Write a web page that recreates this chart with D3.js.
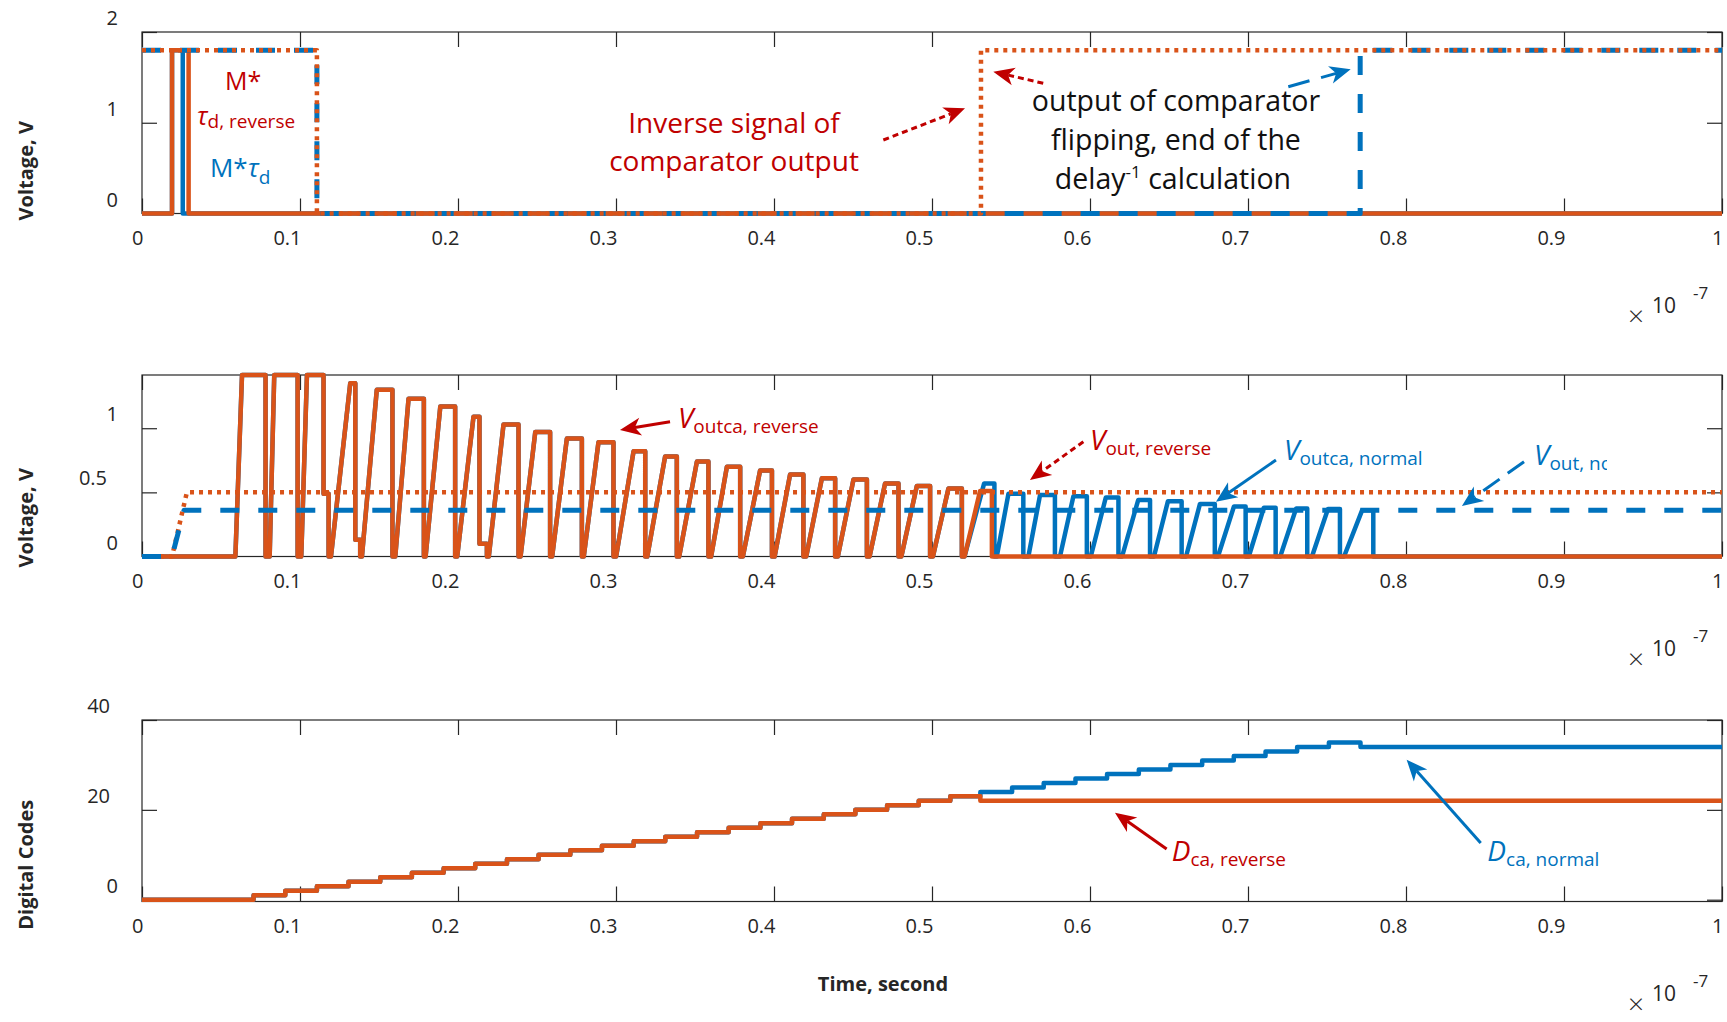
<!DOCTYPE html>
<html>
<head>
<meta charset="utf-8">
<script src="https://cdn.jsdelivr.net/npm/d3@7"></script>
<style>
  body { margin: 0; background: #fff; }
  svg { display: block; }
</style>
</head>
<body>
<script>
// time axis, units of 1e-7 s
var xTicks = [0, 0.1, 0.2, 0.3, 0.4, 0.5, 0.6, 0.7, 0.8, 0.9, 1];
var xTickLabels = ["0", "0.1", "0.2", "0.3", "0.4", "0.5", "0.6", "0.7", "0.8", "0.9", "1"];
var p1Ticks = [0, 1, 2];
var p2Ticks = [0, 0.5, 1];
var p3Ticks = [0, 20, 40];

// panel 1: comparator output (normal, inverse) and the M*tau_d pulses
var compNormT = [0, 0.1107, 0.1107, 0.771, 0.771, 1];
var compNormV = [1.8, 1.8, 0, 0, 1.8, 1.8];
var compRevT = [0, 0.1107, 0.1107, 0.531, 0.531, 1];
var compRevV = [1.8, 1.8, 0, 0, 1.8, 1.8];
var pulseNormT = [0, 0.019, 0.019, 0.0258, 0.0258, 1];
var pulseNormV = [0, 0, 1.8, 1.8, 0, 0];
var pulseRevT = [0, 0.019, 0.019, 0.0295, 0.0295, 1];
var pulseRevV = [0, 0, 1.8, 1.8, 0, 0];

// panel 2: Vout (dotted / dashed)
var voutRevT = [0, 0.019, 0.0284, 1];
var voutRevV = [0, 0, 0.5, 0.5];
var voutNormT = [0, 0.019, 0.0266, 1];
var voutNormV = [0, 0, 0.36, 0.36];

// panel 2: Voutca cycles shared by both runs (ramp start, top reached, drop, peak, level held after drop, end of hold)
var caStart = [0.0591, 0.0808, 0.1008, 0.1196, 0.1392, 0.1603, 0.1795, 0.1995, 0.2195, 0.2396, 0.2596, 0.2796, 0.3001, 0.3198, 0.3400, 0.3602, 0.3803, 0.4004, 0.4204, 0.4404, 0.4605, 0.4806, 0.5006];
var caTop = [0.0633, 0.0837, 0.1044, 0.1318, 0.1486, 0.1687, 0.1888, 0.2098, 0.2288, 0.2489, 0.2689, 0.2889, 0.3111, 0.3311, 0.3512, 0.3702, 0.3912, 0.4102, 0.4303, 0.4503, 0.4703, 0.4904, 0.5104];
var caDrop = [0.0782, 0.0985, 0.1149, 0.1350, 0.1585, 0.1784, 0.1982, 0.2136, 0.2383, 0.2583, 0.2784, 0.2984, 0.3185, 0.3385, 0.3585, 0.3786, 0.3987, 0.4186, 0.4387, 0.4588, 0.4788, 0.4988, 0.5189];
var caPeak = [1.415, 1.415, 1.415, 1.35, 1.30, 1.23, 1.17, 1.09, 1.03, 0.97, 0.92, 0.89, 0.82, 0.78, 0.74, 0.70, 0.67, 0.64, 0.61, 0.60, 0.57, 0.55, 0.53];
var caHold = [0, 0, 0.49, 0.13, 0, 0, 0, 0.10, 0, 0, 0, 0, 0, 0, 0, 0, 0, 0, 0, 0, 0, 0, 0];
var caHoldEnd = [0.0782, 0.0985, 0.1181, 0.1381, 0.1585, 0.1784, 0.1982, 0.2183, 0.2383, 0.2583, 0.2784, 0.2984, 0.3185, 0.3385, 0.3585, 0.3786, 0.3987, 0.4186, 0.4387, 0.4588, 0.4788, 0.4988, 0.5189];
// last cycle of the reverse run
var revStart = [0.5206];
var revTop = [0.5304];
var revDrop = [0.5379];
var revPeak = [0.51];
// remaining cycles of the normal run
var normStart = [0.5206, 0.5410, 0.5610, 0.5810, 0.6005, 0.6203, 0.6405, 0.6608, 0.6810, 0.7005, 0.7204, 0.7405, 0.7608];
var normTop = [0.5330, 0.5484, 0.5684, 0.5895, 0.6100, 0.6305, 0.6493, 0.6696, 0.6911, 0.7100, 0.7305, 0.7506, 0.7722];
var normDrop = [0.5395, 0.5578, 0.5778, 0.5980, 0.6180, 0.6380, 0.6580, 0.6790, 0.6985, 0.7175, 0.7375, 0.7582, 0.7793];
var normPeak = [0.57, 0.49, 0.48, 0.47, 0.46, 0.44, 0.43, 0.41, 0.39, 0.38, 0.375, 0.37, 0.36];

// panel 3: digital codes (step after)
var codeT = [0, 0.0706, 0.0907, 0.1107, 0.1307, 0.1508, 0.1708, 0.1909, 0.2109, 0.231, 0.251, 0.2711, 0.2911, 0.3112, 0.3312, 0.3513, 0.3713, 0.3914, 0.4114, 0.4315, 0.4515, 0.4716, 0.4916, 0.5116];
var codeV = [0, 1, 2, 3, 4, 5, 6, 7, 8, 9, 10, 11, 12, 13, 14, 15, 16, 17, 18, 19, 20, 21, 22, 23];
var codeRevTailT = [0.5306, 1];
var codeRevTailV = [22, 22];
var codeNormTailT = [0.5306, 0.5507, 0.5707, 0.5908, 0.6108, 0.6309, 0.6509, 0.671, 0.691, 0.7111, 0.7311, 0.7512, 0.7712, 1];
var codeNormTailV = [24, 25, 26, 27, 28, 29, 30, 31, 32, 33, 34, 35, 34, 34];

var W = 1727, H = 1022;
var left = 142, right = 1722, ph = 181.5;
var ORANGE = "#D95319", BLUE = "#0072BD", RED = "#C00000", INK = "#262626";
var FONT = "'Open Sans', 'Noto Sans', sans-serif";

var svg = d3.select("body").append("svg")
    .attr("width", W).attr("height", H)
    .style("font-family", FONT);

var x = d3.scaleLinear().domain([0, 1]).range([left, right]);

function zip(t, v) { return t.map(function(d, i) { return [d, v[i]]; }); }

function cycles(pts, st, tp, dr, pk, hd, he) {
  st.forEach(function(s, i) {
    pts.push([s, 0], [tp[i], pk[i]], [dr[i], pk[i]]);
    var h = hd ? hd[i] : 0;
    if (h > 0) pts.push([dr[i], h], [he[i], h], [he[i], 0]);
    else pts.push([dr[i], 0]);
  });
  return pts;
}

function makePanel(top, yDomain, yTicks) {
  var g = svg.append("g").attr("transform", "translate(0," + top + ")");
  var y = d3.scaleLinear().domain(yDomain).range([ph, 0]);

  var bx = g.append("g").attr("transform", "translate(0," + ph + ")")
      .call(d3.axisBottom(x).tickValues(xTicks).tickSize(-15)
        .tickFormat(function(d, i) { return xTickLabels[i]; }));
  bx.selectAll("text").attr("y", 31).attr("dy", null).attr("x", 1).attr("text-anchor", "end");
  g.append("g").call(d3.axisTop(x).tickValues(xTicks).tickSize(-15).tickFormat(""));

  var ly = g.append("g").attr("transform", "translate(" + left + ",0)")
      .call(d3.axisLeft(y).tickValues(yTicks).tickSize(-15).tickFormat(d3.format("~g")));
  var shift = [0, -24, -32, -35];
  ly.selectAll("text").attr("dy", null).attr("y", -7.5)
      .attr("x", function(d) { return shift[d3.format("~g")(d).length]; });
  g.append("g").attr("transform", "translate(" + right + ",0)")
      .call(d3.axisRight(y).tickValues(yTicks).tickSize(-15).tickFormat(""));

  g.selectAll(".domain").remove();
  g.selectAll(".tick line").attr("stroke", INK).attr("stroke-width", 1.2);
  g.selectAll("g").attr("font-size", 20).attr("font-family", FONT);
  g.selectAll(".tick text").attr("fill", INK);

  g.append("rect").attr("x", left).attr("y", 0)
      .attr("width", right - left).attr("height", ph)
      .attr("fill", "none").attr("stroke", INK).attr("stroke-width", 1.2);

  // x 10^-7 multiplier
  var m = g.append("g").attr("fill", INK);
  m.append("text").attr("x", 1636).attr("y", ph + 112).attr("text-anchor", "middle")
      .attr("font-size", 28).attr("font-weight", 300).text("×");
  m.append("text").attr("x", 1652).attr("y", ph + 99).attr("font-size", 21).text("10");
  m.append("text").attr("x", 1693).attr("y", ph + 85).attr("font-size", 17).text("-7");

  return { g: g, y: y };
}

function drawLine(p, pts, color, width, dash, curve) {
  var line = d3.line()
      .x(function(d) { return x(d[0]); })
      .y(function(d) { return p.y(d[1]); })
      .curve(curve || d3.curveLinear);
  p.g.append("path").datum(pts)
      .attr("d", line)
      .attr("fill", "none")
      .attr("stroke", color)
      .attr("stroke-width", width)
      .attr("stroke-linejoin", "round")
      .attr("stroke-dasharray", dash || null);
}

function arrow(p, t1, v1, t2, v2, color, dash) {
  var x1 = x(t1), y1 = p.y(v1), x2 = x(t2), y2 = p.y(v2);
  var dx = x2 - x1, dy = y2 - y1, len = Math.sqrt(dx * dx + dy * dy);
  var ux = dx / len, uy = dy / len, hl = 21, hw = 9;
  var bx = x2 - ux * hl, by = y2 - uy * hl;
  var nx = x2 - ux * hl * 0.72, ny = y2 - uy * hl * 0.72;
  p.g.append("line")
      .attr("x1", x1).attr("y1", y1).attr("x2", nx).attr("y2", ny)
      .attr("stroke", color).attr("stroke-width", 3)
      .attr("stroke-dasharray", dash || null);
  p.g.append("path")
      .attr("d", "M" + x2 + "," + y2 +
        "L" + (bx - uy * hw) + "," + (by + ux * hw) +
        "L" + nx + "," + ny +
        "L" + (bx + uy * hw) + "," + (by - ux * hw) + "Z")
      .attr("fill", color);
}

// main letter + subscript label
function subLabel(p, t, v, main, sub, color) {
  var tx = p.g.append("text").attr("x", x(t)).attr("y", p.y(v)).attr("fill", color);
  tx.append("tspan").attr("font-size", 28).attr("font-style", "italic").text(main);
  tx.append("tspan").attr("font-size", 19).attr("dy", 5).text(sub);
  return tx;
}

// centred lines, one text per line
function block(p, t, ys, lines, color, size) {
  return lines.map(function(s, i) {
    return p.g.append("text").attr("x", x(t)).attr("y", ys[i])
        .attr("fill", color).attr("font-size", size).attr("text-anchor", "middle").text(s);
  });
}

function yLabel(p, cy, txt) {
  p.g.append("text")
      .attr("transform", "translate(33," + cy + ") rotate(-90)")
      .attr("text-anchor", "middle").attr("font-size", 20).attr("font-weight", 700)
      .attr("fill", INK).text(txt);
}

// ---------------- panel 1
var p1 = makePanel(32, [0, 2], p1Ticks);
drawLine(p1, zip(pulseNormT, pulseNormV), BLUE, 4.5);
drawLine(p1, zip(pulseRevT, pulseRevV), ORANGE, 4.5);
drawLine(p1, zip(compNormT, compNormV), BLUE, 5, "19,19");
drawLine(p1, zip(compRevT, compRevV), ORANGE, 4.5, "4,5");
yLabel(p1, ph / 2 + 48, "Voltage, V");

p1.g.append("text").attr("x", x(0.0525)).attr("y", p1.y(1.36)).attr("fill", RED)
    .attr("font-size", 25).text("M*");
var tau1 = p1.g.append("text").attr("x", x(0.0348)).attr("y", p1.y(0.97)).attr("fill", RED);
tau1.append("tspan").attr("font-size", 25).attr("font-style", "italic").text("τ");
tau1.append("tspan").attr("font-size", 19).attr("dy", 3).text("d, reverse");
var tau2 = p1.g.append("text").attr("x", x(0.043)).attr("y", p1.y(0.405)).attr("fill", BLUE);
tau2.append("tspan").attr("font-size", 26).text("M*");
tau2.append("tspan").attr("font-size", 26).attr("font-style", "italic").text("τ");
tau2.append("tspan").attr("font-size", 19).attr("dy", 7).text("d");

// y positions of the text lines (px inside the panel)
block(p1, 0.3747, [100.5, 139], ["Inverse signal of", "comparator output"], RED, 28);
block(p1, 0.6544, [79, 118], ["output of comparator", "flipping, end of the"], "#111", 28.5);
var l3 = p1.g.append("text").attr("x", x(0.6544) - 3).attr("y", 157)
    .attr("fill", "#111").attr("font-size", 28.5).attr("text-anchor", "middle");
l3.append("tspan").text("delay");
l3.append("tspan").attr("font-size", 17).attr("dy", -11).text("-1");
l3.append("tspan").attr("dy", 11).text(" calculation");

arrow(p1, 0.4692, 0.81, 0.5209, 1.159, RED, "6,4");
arrow(p1, 0.5704, 1.435, 0.5388, 1.5625, RED, "6,4");
arrow(p1, 0.7255, 1.397, 0.765, 1.589, BLUE, "22,12");

// ---------------- panel 2
var p2 = makePanel(375, [0, 1.415], p2Ticks);
var caNorm = cycles(cycles([[0, 0]], caStart, caTop, caDrop, caPeak, caHold, caHoldEnd),
    normStart, normTop, normDrop, normPeak);
caNorm.push([1, 0]);
var caRev = cycles(cycles([[0, 0]], caStart, caTop, caDrop, caPeak, caHold, caHoldEnd),
    revStart, revTop, revDrop, revPeak);
caRev.push([1, 0]);
drawLine(p2, caNorm, BLUE, 4.5);
drawLine(p2, caRev, ORANGE, 4.5);
drawLine(p2, zip(voutRevT, voutRevV), ORANGE, 4.5, "4,5");
drawLine(p2, zip(voutNormT, voutNormV), BLUE, 5, "19,19");
yLabel(p2, ph / 2 + 52, "Voltage, V");

subLabel(p2, 0.3392, 0.999, "V", "outca, reverse", RED);
arrow(p2, 0.3342, 1.051, 0.3025, 0.986, RED);
subLabel(p2, 0.6, 0.83, "V", "out, reverse", RED);
arrow(p2, 0.5958, 0.895, 0.562, 0.596, RED, "6,4");
subLabel(p2, 0.7228, 0.752, "V", "outca, normal", BLUE);
arrow(p2, 0.7177, 0.752, 0.6797, 0.427, BLUE);
svg.append("defs").append("clipPath").attr("id", "cutNc")
  .append("rect").attr("x", 0).attr("y", -60).attr("width", 1607).attr("height", ph + 120);
subLabel(p2, 0.881, 0.713, "V", "out, normal", BLUE).attr("clip-path", "url(#cutNc)");
arrow(p2, 0.8747, 0.739, 0.8354, 0.394, BLUE, "20,10");

// ---------------- panel 3
var p3 = makePanel(720, [-0.4, 40], p3Ticks);
drawLine(p3, zip(codeT, codeV).concat(zip(codeNormTailT, codeNormTailV)), BLUE, 4.5, null, d3.curveStepAfter);
drawLine(p3, zip(codeT, codeV).concat(zip(codeRevTailT, codeRevTailV)), ORANGE, 4.5, null, d3.curveStepAfter);
yLabel(p3, ph / 2 + 54, "Digital Codes");

subLabel(p3, 0.6517, 8.68, "D", "ca, reverse", RED);
arrow(p3, 0.6485, 11.27, 0.6158, 19.38, RED);
subLabel(p3, 0.8515, 8.68, "D", "ca, normal", BLUE);
arrow(p3, 0.8473, 12.6, 0.8004, 31.16, BLUE);

p3.g.append("text").attr("x", 883).attr("y", ph + 89).attr("text-anchor", "middle")
    .attr("font-size", 20).attr("font-weight", 700).attr("fill", INK).text("Time, second");
</script>
</body>
</html>
